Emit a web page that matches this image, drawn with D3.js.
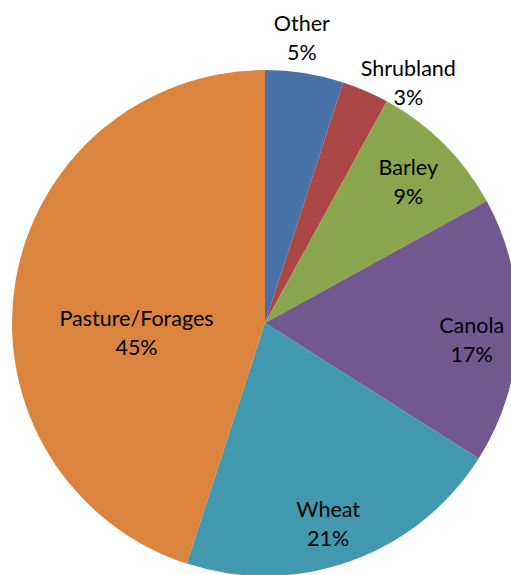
<!DOCTYPE html>
<html lang="en">
<head>
  <meta charset="utf-8">
  <script src="https://d3js.org/d3.v7.min.js"></script>
  <style>
    body { margin: 0; background: #fff; }
    .label { font-family: Lato, "Open Sans", sans-serif; font-size: 21.5px; fill: #000; }
  </style>
</head>
<body>
  <script type="text/javascript">
    // data (clockwise from 12 o'clock)
    var categories = ["Other", "Shrubland", "Barley", "Canola", "Wheat", "Pasture/Forages"];
    var shares = [5, 3, 9, 17, 21, 45];
    var colors = ["#4672A8", "#AA4643", "#89A54E", "#71588F", "#4198AF", "#DB843D"];

    // layout of the chart
    var dim = {
      "width": 511,
      "height": 575,
      "cx": 265,
      "cy": 323,
      "radius": 253,
      "lineGap": 29
    };

    // label placement: radius factor and angle shift (degrees) per slice
    var labelPlace = {
      "Other": { "r": 1.13, "shift": -1.6 },
      "Shrubland": { "r": 1.10, "shift": 7.6 },
      "Barley": { "r": 0.79, "shift": 0.8 },
      "Canola": { "r": 0.82, "shift": 3.2 },
      "Wheat": { "r": 0.84, "shift": 2.5 },
      "Pasture/Forages": { "r": 0.51, "shift": -14.3 }
    };

    var data = categories.map(function(c, i) {
      return { "name": c, "value": shares[i], "color": colors[i] };
    });

    var svg = d3.select("body")
      .append("svg")
      .attr("width", dim.width)
      .attr("height", dim.height);

    var g = svg.append("g")
      .attr("transform", "translate(" + dim.cx + "," + dim.cy + ")");

    var pie = d3.pie()
      .sort(null)
      .value(function(d) { return d.value; });

    var arc = d3.arc()
      .innerRadius(0)
      .outerRadius(dim.radius);

    var arcs = pie(data);

    // draw slices
    g.selectAll("path")
      .data(arcs)
      .enter()
      .append("path")
      .attr("d", arc)
      .attr("fill", function(d) { return d.data.color; });

    // draw labels
    var labels = g.selectAll("g.lab")
      .data(arcs)
      .enter()
      .append("g")
      .attr("class", "lab")
      .attr("transform", function(d) {
        var p = labelPlace[d.data.name];
        var a = (d.startAngle + d.endAngle) / 2 + p.shift * Math.PI / 180;
        var r = dim.radius * p.r;
        return "translate(" + (r * Math.sin(a)) + "," + (-r * Math.cos(a)) + ")";
      });

    labels.append("text")
      .attr("class", "label")
      .attr("text-anchor", "middle")
      .attr("y", -dim.lineGap / 2 + 6)
      .text(function(d) { return d.data.name; });

    labels.append("text")
      .attr("class", "label")
      .attr("text-anchor", "middle")
      .attr("y", dim.lineGap / 2 + 6)
      .text(function(d) { return d.data.value + "%"; });
  </script>
</body>
</html>
